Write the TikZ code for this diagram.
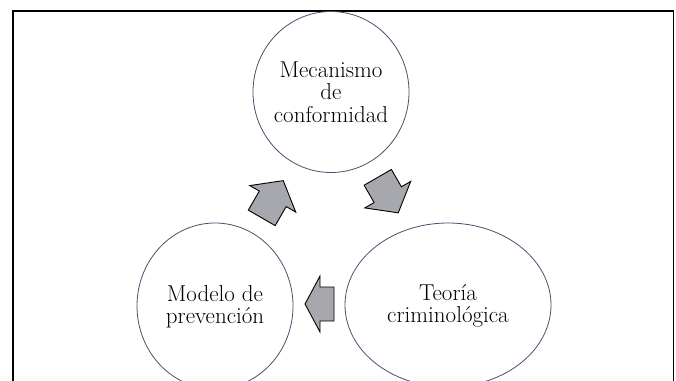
\documentclass[tikz,border=0pt]{standalone}
\usetikzlibrary{shapes.geometric}
\definecolor{circleline}{RGB}{68,84,106}
\definecolor{arrowfill}{RGB}{166,168,173}
\tikzset{
  bubble/.style={draw=circleline, line width=0.8pt, ellipse, inner sep=0pt},
  bubbletext/.style={align=center, inner sep=0pt, font=\fontsize{23}{22.5}\selectfont},
  blockarrow/.style={draw=black, fill=arrowfill, line width=0.9pt, line join=miter},
  frame/.style={draw=black, line width=1.3pt}
}
% #1 center, #2 angle, #3 length, #4 shaft width, #5 head width, #6 head length
\newcommand{\blockarr}[6]{%
  \begin{scope}[shift={#1}, rotate=#2]
    \draw[blockarrow] (-#3/2,-#4/2) -- (#3/2-#6,-#4/2) -- (#3/2-#6,-#5/2) -- (#3/2,0)
      -- (#3/2-#6,#5/2) -- (#3/2-#6,#4/2) -- (-#3/2,#4/2) -- cycle;
  \end{scope}}
\begin{document}
\begin{tikzpicture}[x=1pt,y=-1pt]
  \useasboundingbox (0,0) rectangle (676,380);
  \fill[white] (0,0) rectangle (676,380);
  \clip (0,0) rectangle (676,380);
  \coordinate (fbl) at (13,385);
  \coordinate (ftl) at (13,11);
  \coordinate (ftr) at (673.5,11);
  \coordinate (fbr) at (673.5,385);
  \draw[frame] (fbl) -- (ftl) -- (ftr) -- (fbr);
  \node[bubble, minimum width=156pt, minimum height=161pt] (mec) at (331,92) {};
  \node[bubbletext] (mect) at (mec.center) {Mecanismo\\de\\conformidad};
  \node[bubble, minimum width=156pt, minimum height=166pt] (mod) at (215,306) {};
  \node[bubbletext] (modt) at ([yshift=-1pt]mod.center) {Modelo de\\prevención};
  \node[bubble, minimum width=206pt, minimum height=164pt] (teo) at (448,305) {};
  \node[bubbletext] (teot) at ([yshift=-1pt]teo.center) {Teoría\\criminológica};
  \blockarr{(272.5,199.25)}{60}{43}{31}{53}{21}
  \blockarr{(388,195.1)}{-60}{41}{31.5}{53}{21}
  \blockarr{(319.5,304)}{180}{29}{34}{56}{15}
\end{tikzpicture}
\end{document}
